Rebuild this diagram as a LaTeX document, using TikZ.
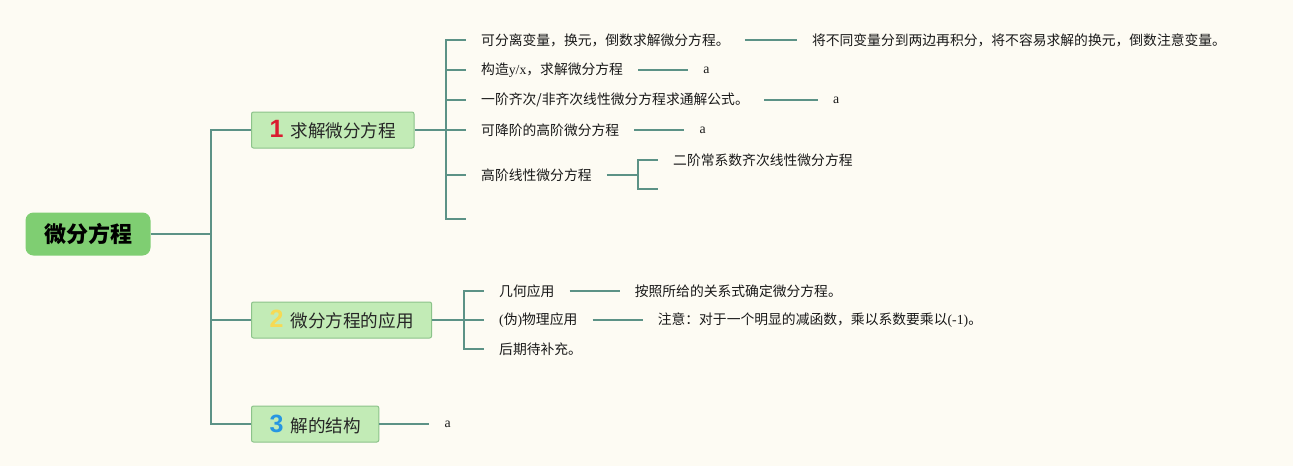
\documentclass[tikz,border=0pt]{standalone}
\usepackage{fontspec}
\setmainfont{Liberation Serif}
\newfontfamily\cjk{Noto Sans CJK SC}
\newfontfamily\numfont{Liberation Sans}
\usetikzlibrary{positioning}
\definecolor{paper}{RGB}{253,251,243}
\definecolor{rootgreen}{RGB}{127,206,114}
\definecolor{topicgreen}{RGB}{194,235,182}
\definecolor{topicedge}{RGB}{140,195,138}
\definecolor{branchteal}{RGB}{92,146,134}
\definecolor{numred}{RGB}{218,28,48}
\definecolor{numyellow}{RGB}{246,218,84}
\definecolor{numblue}{RGB}{38,150,226}
\newcommand{\topicnum}[2]{{\numfont\bfseries\fontsize{25}{26}\selectfont\color{#1}#2}\hspace{7pt}}

\begin{document}
\begin{tikzpicture}[x=1pt, y=-1pt, node distance=50pt,
	root/.style={fill=rootgreen, rounded corners=8pt, minimum width=125pt, minimum height=43pt,
		font=\cjk\bfseries\fontsize{22}{24}\selectfont},
	topic/.style={draw=topicedge, line width=1pt, fill=topicgreen, rounded corners=2pt, anchor=west,
		minimum height=36pt, inner xsep=18pt, text=black!85, font=\cjk\fontsize{17.6}{19}\selectfont},
	leaf/.style={anchor=west, inner xsep=15pt, inner ysep=2pt, text=black!90,
		font=\cjk\fontsize{13.8}{15}\selectfont},
	note/.style={leaf, font=\rmfamily\fontsize{13.8}{15}\selectfont},
	link/.style={draw=branchteal, line width=1.8pt}]

	\useasboundingbox[fill=paper] (0,0) rectangle (1293,466);

	% root and main topics
	\node[root] (root) at (88,234) {微分方程};
	\node[topic] (b1) at (251,130) {\topicnum{numred}{1}求解微分方程};
	\node[topic] (b2) at (251,320) {\topicnum{numyellow}{2}微分方程的应用};
	\node[topic] (b3) at (251,424) {\topicnum{numblue}{3}解的结构};

	\coordinate (j0) at (211,234);
	\coordinate (j1) at (446,130);
	\coordinate (j2) at (464,320);

	% branch 1
	\node[leaf] (s1) at (466,40) {可分离变量，换元，倒数求解微分方程。};
	\node[leaf, right=52pt of s1] (s1d) {将不同变量分到两边再积分，将不容易求解的换元，倒数注意变量。};
	\node[leaf] (s2) at (466,70) {构造{\rmfamily y/x}，求解微分方程};
	\node[note, right=of s2] (s2d) {a};
	\node[leaf] (s3) at (466,100) {一阶齐次/非齐次线性微分方程求通解公式。};
	\node[note, right=54pt of s3] (s3d) {a};
	\node[leaf] (s4) at (466,130) {可降阶的高阶微分方程};
	\node[note, right=of s4] (s4d) {a};
	\node[leaf] (s5) at (466,175) {高阶线性微分方程};
	\coordinate (s6) at (466,219);
	\coordinate (j5) at (638,175);
	\node[leaf] (s5a) at (658,160) {二阶常系数齐次线性微分方程};
	\coordinate (s5b) at (658,189);

	% branch 2
	\node[leaf] (p1) at (484,291) {几何应用};
	\node[leaf, right=of p1] (p1d) {按照所给的关系式确定微分方程。};
	\node[leaf] (p2) at (484,320) {{\rmfamily (}伪{\rmfamily )}物理应用};
	\node[leaf, right=of p2] (p2d) {注意：对于一个明显的减函数，乘以系数要乘以{\rmfamily (-1)}。};
	\node[leaf] (p3) at (484,349) {后期待补充。};

	% branch 3
	\node[note, right=of b3] (r1) {a};

	% connectors
	\draw[link] (root.east) -- (j0);
	\foreach \t in {b1,b2,b3}
		\draw[link] (j0) |- (\t.west);
	\draw[link] (b1.east) -- (j1);
	\foreach \t in {s1,s2,s3,s4,s5}
		\draw[link] (j1) |- (\t.west);
	\draw[link] (j1) |- (s6);
	\draw[link] (s1.east) -- (s1d.west);
	\draw[link] (s2.east) -- (s2d.west);
	\draw[link] (s3.east) -- (s3d.west);
	\draw[link] (s4.east) -- (s4d.west);
	\draw[link] (s5.east) -- (j5);
	\draw[link] (j5) |- (s5a.west);
	\draw[link] (j5) |- (s5b);
	\draw[link] (b2.east) -- (j2);
	\foreach \t in {p1,p2,p3}
		\draw[link] (j2) |- (\t.west);
	\draw[link] (p1.east) -- (p1d.west);
	\draw[link] (p2.east) -- (p2d.west);
	\draw[link] (b3.east) -- (r1.west);
\end{tikzpicture}
\end{document}
